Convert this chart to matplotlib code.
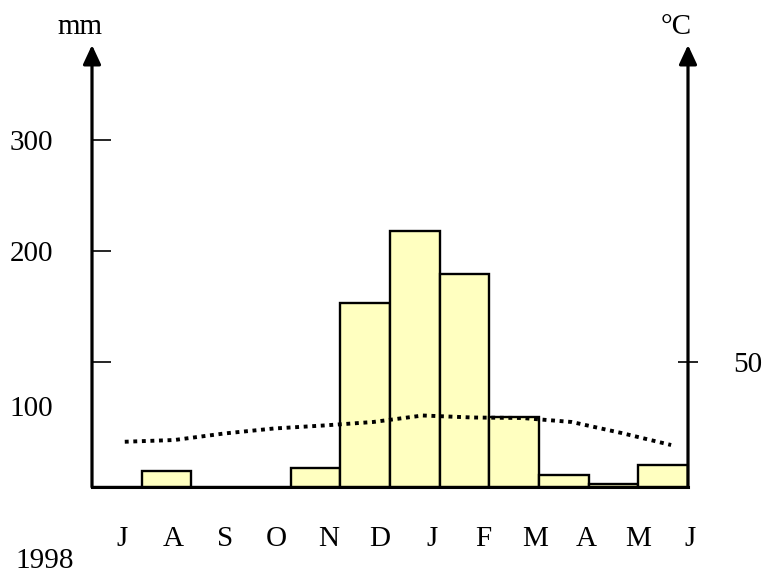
import matplotlib
matplotlib.use('Agg')
import matplotlib.pyplot as plt
import numpy as np

plt.rcParams['font.family'] = ['Liberation Serif', 'DejaVu Serif']

# Climate chart, Jul 1998 - Jun 1999
months = ['J', 'A', 'S', 'O', 'N', 'D', 'J', 'F', 'M', 'A', 'M', 'J']
precip_mm = [0, 14, 0, 0, 17, 166, 231, 192, 63, 11, 3, 20]
temp_c = [18.1, 18.8, 21.4, 23.4, 24.6, 26.0, 28.6, 27.8, 27.6, 26.0, 21.6, 16.8]
precip_ticks = [100, 200, 300]
temp_ticks = [50]
year_label = '1998'

W, H = 766, 575
fig = plt.figure(figsize=(W / 100, H / 100), dpi=100)
ax = fig.add_axes([92 / W, 88 / H, 596 / W, 442 / H])
ax2 = ax.twinx()

base = -12.6
ax.set_xlim(0, 12)
ax.set_ylim(base, base + 442 / 1.11)
ax2.set_ylim(0, 442 / 2.5)

x = np.arange(len(months))
ax.bar(x + 0.5, precip_mm, width=1.0, bottom=base, color='#ffffc0',
       edgecolor='black', linewidth=1.7, zorder=2)
ax2.plot(x + 0.66, temp_c, color='black', lw=2.8, linestyle=(0, (1, 1.2)))

for a in (ax, ax2):
    for s in ('top', 'left', 'right', 'bottom'):
        a.spines[s].set_visible(False)
ax.spines['bottom'].set_visible(True)
ax.spines['bottom'].set_linewidth(2.2)
ax.spines['bottom'].set_zorder(5)

# axis arrows
for xa in (0, 1):
    ax.annotate('', xy=(xa, 1), xytext=(xa, 0), xycoords='axes fraction',
                arrowprops=dict(arrowstyle='-|>,head_length=0.58,head_width=0.27',
                                mutation_scale=20, lw=2.3, color='black',
                                shrinkA=0, shrinkB=0),
                annotation_clip=False, zorder=6)

ax.set_xticks([])
ax.set_yticks(precip_ticks)
ax.set_yticklabels(['' if t == 100 else str(t) for t in precip_ticks])
ax.tick_params(axis='y', direction='in', length=13.7, width=1.2, pad=28, labelsize=21)
ax.text(-0.0654, 58, '100', transform=ax.get_yaxis_transform(),
        ha='right', va='center', fontsize=21)

ax2.set_yticks(temp_ticks)
ax2.set_yticklabels([str(t) for t in temp_ticks])
ax2.tick_params(axis='y', direction='inout', length=14.4, width=1.2, pad=25, labelsize=21)

for i, m in enumerate(months):
    ax.text(0.604 + 1.039 * i, -0.1176, m, transform=ax.get_xaxis_transform(),
            ha='center', va='center', fontsize=21)

fig.text(80 / W, 1 - 27 / H, 'mm', ha='center', va='center', fontsize=21)
fig.text(676 / W, 1 - 27 / H, '°C', ha='center', va='center', fontsize=21)
fig.text(45 / W, 1 - 561 / H, year_label, ha='center', va='center', fontsize=21)

fig.savefig('out.png', dpi=100)
